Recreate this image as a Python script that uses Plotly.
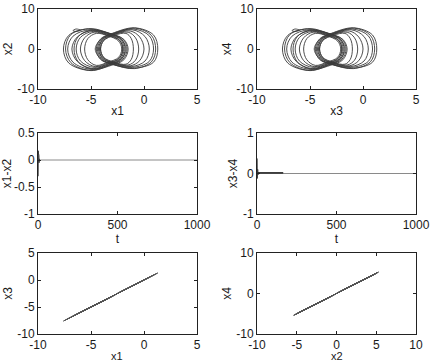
import plotly.graph_objects as go

# ---------------- data ----------------
# attractor loops (x1, x2) read from the phase portrait; x3 = x1, x4 = x2 (synchronised)
loops_x1 = [
    [-7.6, -7.1, -5.3, -3.2, -2.0, -1.6, -2.0, -3.2, -5.0, -7.1, -7.6],
    [-7.4, -6.9, -5.0, -3.1, -1.9, -1.5, -1.9, -3.1, -5.2, -6.9, -7.4],
    [-7.2, -6.7, -5.1, -3.2, -2.1, -1.8, -2.1, -3.2, -4.9, -6.7, -7.2],
    [-6.8, -6.3, -4.9, -3.3, -2.2, -1.9, -2.2, -3.3, -4.8, -6.3, -6.8],
    [-6.6, -6.2, -5.0, -3.2, -2.1, -1.7, -2.1, -3.2, -4.9, -6.2, -6.6],
    [-6.4, -6.0, -4.8, -3.3, -2.3, -2.0, -2.3, -3.3, -4.7, -6.0, -6.4],
    [-6.0, -5.6, -4.7, -3.4, -2.3, -2.0, -2.3, -3.4, -4.6, -5.6, -6.0],
    [-5.6, -5.3, -4.5, -3.4, -2.4, -2.1, -2.4, -3.4, -4.5, -5.3, -5.6],
    [1.3, 0.9, -0.9, -3.0, -4.1, -4.5, -4.1, -3.0, -1.0, 0.9, 1.3],
    [1.1, 0.7, -0.8, -2.9, -4.0, -4.6, -4.0, -2.9, -0.9, 0.7, 1.1],
    [0.9, 0.5, -1.0, -3.0, -4.0, -4.4, -4.0, -3.0, -1.1, 0.5, 0.9],
    [0.5, 0.1, -1.1, -2.9, -3.9, -4.3, -3.9, -2.9, -1.2, 0.1, 0.5],
    [0.0, -0.4, -1.3, -2.9, -3.9, -4.2, -3.9, -2.9, -1.3, -0.4, 0.0],
    [-0.5, -0.8, -1.5, -2.9, -3.8, -4.1, -3.8, -2.9, -1.5, -0.8, -0.5],
    [-1.0, -1.2, -1.7, -2.8, -3.8, -4.1, -3.8, -2.8, -1.7, -1.2, -1.0],
    [-6.7, -6.4, -6.0, -6.4, -6.7],
]
loops_x2 = [
    [0, 3.4, 5.0, 3.9, 2.5, 0, -2.6, -4.0, -5.4, -3.5, 0],
    [0, 3.6, 5.1, 3.7, 2.4, 0, -2.7, -4.1, -5.3, -3.4, 0],
    [0, 3.2, 4.8, 3.8, 2.4, 0, -2.5, -3.9, -5.1, -3.3, 0],
    [0, 3.0, 4.6, 3.6, 2.3, 0, -2.4, -3.7, -4.9, -3.1, 0],
    [0, 3.1, 4.7, 3.7, 2.3, 0, -2.4, -3.8, -5.0, -3.2, 0],
    [0, 2.9, 4.4, 3.5, 2.2, 0, -2.3, -3.6, -4.6, -3.0, 0],
    [0, 2.8, 4.2, 3.4, 2.1, 0, -2.2, -3.5, -4.4, -2.9, 0],
    [0, 2.6, 3.9, 3.3, 2.0, 0, -2.1, -3.3, -4.1, -2.7, 0],
    [0, 3.5, 5.3, 3.9, 2.5, 0, -2.6, -3.8, -4.8, -3.3, 0],
    [0, 3.4, 5.2, 3.8, 2.6, 0, -2.7, -3.9, -4.9, -3.2, 0],
    [0, 3.3, 5.0, 3.8, 2.4, 0, -2.5, -3.7, -4.6, -3.1, 0],
    [0, 3.1, 4.8, 3.7, 2.4, 0, -2.4, -3.6, -4.4, -3.0, 0],
    [0, 3.0, 4.5, 3.6, 2.3, 0, -2.3, -3.5, -4.2, -2.9, 0],
    [0, 2.8, 4.2, 3.5, 2.2, 0, -2.2, -3.4, -4.0, -2.8, 0],
    [0, 2.6, 3.9, 3.4, 2.1, 0, -2.1, -3.3, -3.8, -2.6, 0],
    [4.6, 5.0, 4.7, 4.4, 4.6],
]

# synchronisation errors
t_e12 = [0, 1, 2, 3, 4, 5, 6, 8, 10, 15, 1000]
e12 = [-0.3, 0.17, -0.25, 0.12, -0.15, 0.08, -0.05, 0.02, -0.01, 0, 0]
t_e34 = [0, 1, 2, 3, 4, 6, 8, 10, 15, 1000]
e34 = [0.37, -0.12, 0.2, -0.08, 0.1, -0.03, 0.02, 0.01, 0, 0]
t_e34_tr = [5, 165]
e34_tr = [0.015, 0.015]

# ticks
ticks_pm10_5 = [-10, -5, 0, 5]
ticks_pm10_10 = [-10, -5, 0, 5, 10]
ticks_y10 = [-10, 0, 10]
ticks_t = [0, 500, 1000]
ticks_e12 = [-1, -0.5, 0, 0.5]
ticks_e34 = [-1, 0, 1]
ticks_y5 = [-10, -5, 0, 5]


def lab(vals):
    return [("%g" % v) for v in vals]


# ---------------- figure ----------------
fig = go.Figure()
DARK = "#3a3a3a"
GRAY = "#8a8a8a"

for lx, ly in zip(loops_x1, loops_x2):
    for xa, ya in (("x", "y"), ("x2", "y2")):
        fig.add_trace(go.Scatter(x=lx, y=ly, mode="lines", line=dict(color=DARK, width=0.9, shape="spline"),
                                 xaxis=xa, yaxis=ya, showlegend=False))

fig.add_trace(go.Scatter(x=t_e12, y=e12, mode="lines", line=dict(color=GRAY, width=1),
                         xaxis="x3", yaxis="y3", showlegend=False))
fig.add_trace(go.Scatter(x=t_e12[:9], y=e12[:9], mode="lines", line=dict(color=DARK, width=1),
                         xaxis="x3", yaxis="y3", showlegend=False))
fig.add_trace(go.Scatter(x=t_e34, y=e34, mode="lines", line=dict(color=GRAY, width=1),
                         xaxis="x4", yaxis="y4", showlegend=False))
fig.add_trace(go.Scatter(x=t_e34[:8], y=e34[:8], mode="lines", line=dict(color=DARK, width=1),
                         xaxis="x4", yaxis="y4", showlegend=False))
fig.add_trace(go.Scatter(x=t_e34_tr, y=e34_tr, mode="lines", line=dict(color="#2a2a2a", width=1.6),
                         xaxis="x4", yaxis="y4", showlegend=False))

for lx in loops_x1:
    fig.add_trace(go.Scatter(x=lx, y=lx, mode="lines", line=dict(color="#555555", width=1),
                             xaxis="x5", yaxis="y5", showlegend=False))
for ly in loops_x2:
    fig.add_trace(go.Scatter(x=ly, y=ly, mode="lines", line=dict(color="#555555", width=1),
                             xaxis="x6", yaxis="y6", showlegend=False))

W, H = 431, 363
colx = [(38 / W, 197 / W), (257 / W, 416 / W)]
rowy = [(1 - 89 / H, 1 - 9 / H), (1 - 214 / H, 1 - 133 / H), (1 - 334 / H, 1 - 253 / H)]

FONT = dict(family="Liberation Sans, Arial, sans-serif", size=12, color="#1a1a1a")
FONT_B = dict(family="Liberation Sans, Arial, sans-serif", size=11, color="#1a1a1a")


def ax(domain, rng, ticks, title, anchor, standoff=0):
    return dict(domain=list(domain), range=rng, tickmode="array", tickvals=ticks, ticktext=lab(ticks),
                ticks="inside", ticklen=3, tickcolor="#222", showline=True, linecolor="#222", linewidth=1,
                mirror="ticks", showgrid=False, zeroline=False, tickfont=FONT,
                title=dict(text=title, font=FONT, standoff=standoff), anchor=anchor, automargin=False)


fig.update_layout(
    width=W, height=H, margin=dict(l=0, r=0, t=0, b=0),
    paper_bgcolor="white", plot_bgcolor="white", showlegend=False,
    xaxis=ax(colx[0], [-10, 5], ticks_pm10_5, "x1", "y"),
    yaxis=ax(rowy[0], [-10, 10], ticks_y10, "x2", "x", 2),
    xaxis2=ax(colx[1], [-10, 5], ticks_pm10_5, "x3", "y2"),
    yaxis2=ax(rowy[0], [-10, 10], ticks_y10, "x4", "x2", 2),
    xaxis3=ax(colx[0], [0, 1000], ticks_t, "t", "y3"),
    yaxis3=ax(rowy[1], [-1, 0.5], ticks_e12, "x1-x2", "x3", 2),
    xaxis4=ax(colx[1], [0, 1000], ticks_t, "t", "y4"),
    yaxis4=ax(rowy[1], [-1, 1], ticks_e34, "x3-x4", "x4", 2),
    xaxis5=ax(colx[0], [-10, 5], ticks_pm10_5, "", "y5"),
    yaxis5=ax(rowy[2], [-10, 5], ticks_y5, "x3", "x5", 2),
    xaxis6=ax(colx[1], [-10, 10], ticks_pm10_10, "", "y6"),
    yaxis6=ax(rowy[2], [-10, 10], ticks_y10, "x4", "x6", 2),
)

# bottom-row x titles, placed against the bottom edge (below the tick labels)
for xc, txt in ((sum(colx[0]) / 2, "x1"), (sum(colx[1]) / 2, "x2")):
    fig.add_annotation(x=xc, y=0, xref="paper", yref="paper", text=txt, showarrow=False,
                       xanchor="center", yanchor="bottom", yshift=-1, font=FONT_B)

fig.write_html("out.html")
